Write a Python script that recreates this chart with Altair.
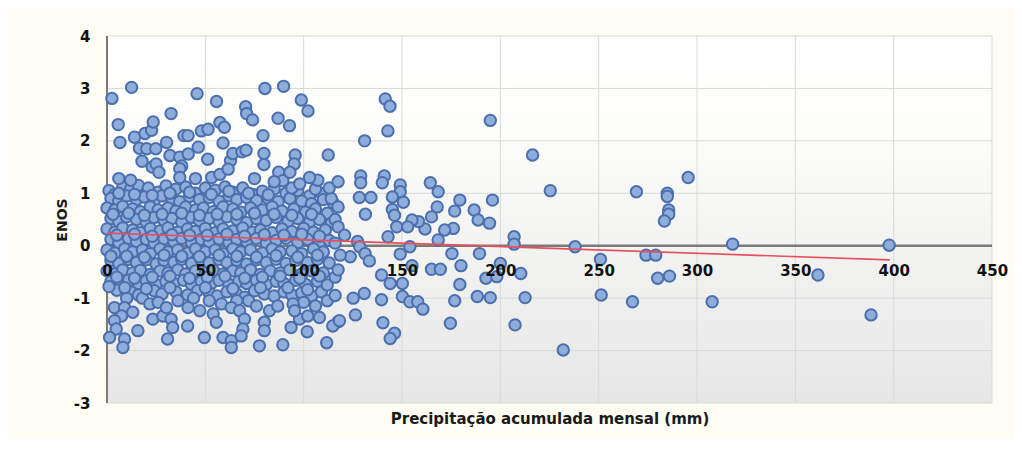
import altair as alt
import pandas as pd

# ---- data (x = precipitação mm, y = ENOS) ----
dense_pts = [
    (1,1.05),(4,0.98),(8,1.12),(12,1.08),(16,1.15),(21,1.1),(26,1.02),(30,1.14),(35,1.08),(40,1.12),(45,1.0),(50,1.1),(55,1.06),(60,1.12),(64,1.02),(69,1.1),(74,0.98),(79,1.04),(85,1.08),(91,1.0),(97,1.05),(103,0.95),(109,1.0),
    (2,0.9),(6,0.85),(10,0.95),(15,0.88),(19,0.93),(24,0.86),(28,0.95),(33,0.9),(37,0.84),(42,0.94),(47,0.88),(52,0.92),(57,0.85),(62,0.95),(66,0.88),(71,0.92),(76,0.86),(82,0.9),(87,0.84),(93,0.9),(99,0.85),(104,0.8),(110,0.88),(115,0.82),
    (0,0.72),(4,0.68),(8,0.75),(13,0.7),(17,0.65),(22,0.74),(26,0.68),(31,0.72),(35,0.66),(40,0.74),(45,0.68),(49,0.72),(54,0.65),(59,0.74),(64,0.7),(68,0.64),(73,0.72),(79,0.68),(84,0.74),(89,0.66),(95,0.7),(101,0.64),(106,0.7),(112,0.62),
    (2,0.52),(6,0.46),(10,0.55),(15,0.5),(20,0.45),(24,0.54),(29,0.48),(33,0.52),(38,0.45),(43,0.54),(47,0.48),(52,0.52),(57,0.46),(61,0.55),(66,0.5),(71,0.44),(76,0.52),(81,0.48),(86,0.54),(92,0.46),(97,0.52),(103,0.45),(108,0.5),(114,0.42),
    (0,0.32),(4,0.26),(8,0.34),(13,0.3),(17,0.25),(22,0.33),(27,0.28),(31,0.34),(36,0.26),(41,0.32),(45,0.27),(50,0.33),(55,0.25),(59,0.32),(64,0.28),(69,0.34),(74,0.26),(78,0.3),(84,0.25),(89,0.32),(94,0.27),(100,0.33),(105,0.26),(111,0.3),
    (2,0.12),(6,0.06),(11,0.14),(15,0.08),(20,0.12),(24,0.05),(29,0.13),(34,0.08),(38,0.14),(43,0.06),(48,0.12),(52,0.07),(57,0.13),(62,0.06),(66,0.12),(71,0.08),(76,0.14),(81,0.05),(86,0.1),(91,0.14),(97,0.06),(102,0.12),(108,0.05),(113,0.1),
    (0,-0.08),(4,-0.14),(9,-0.06),(13,-0.12),(18,-0.08),(22,-0.15),(27,-0.06),(31,-0.12),(36,-0.08),(41,-0.14),(45,-0.06),(50,-0.12),(55,-0.08),(59,-0.15),(64,-0.06),(68,-0.12),(73,-0.08),(79,-0.14),(84,-0.06),(88,-0.12),(94,-0.1),(99,-0.15),(105,-0.06),(110,-0.12),
    (2,-0.28),(6,-0.34),(11,-0.26),(15,-0.32),(20,-0.27),(25,-0.35),(29,-0.28),(34,-0.32),(38,-0.26),(43,-0.34),(48,-0.28),(52,-0.33),(57,-0.26),(61,-0.32),(66,-0.28),(71,-0.35),(76,-0.27),(81,-0.32),(86,-0.26),(91,-0.34),(96,-0.28),(102,-0.32),(107,-0.26),(113,-0.33),
    (0,-0.48),(4,-0.54),(8,-0.46),(13,-0.52),(17,-0.47),(22,-0.55),(27,-0.48),(31,-0.52),(36,-0.46),(40,-0.54),(45,-0.48),(50,-0.52),(54,-0.47),(59,-0.54),(64,-0.48),(68,-0.52),(73,-0.46),(78,-0.55),(83,-0.48),(88,-0.52),(93,-0.46),(99,-0.54),(104,-0.48),(110,-0.52),
    (2,-0.68),(7,-0.74),(11,-0.66),(16,-0.72),(20,-0.67),(25,-0.74),(30,-0.68),(34,-0.72),(39,-0.66),(43,-0.74),(48,-0.68),(53,-0.72),(57,-0.66),(62,-0.74),(67,-0.68),(71,-0.72),(76,-0.66),(81,-0.74),(86,-0.68),(90,-0.72),(96,-0.66),(101,-0.74),(107,-0.68),
    (5,-0.85),(12,-0.88),(16,-0.94),(24,-0.86),(28,-0.92),(35,-0.88),(41,-0.94),(46,-0.86),(52,-0.9),(56,-0.96),(61,-0.88),(66,-0.92),(70,-0.98),(75,-0.86),(80,-0.92),(85,-0.96),(90,-0.88),(94,-0.94),(99,-0.9),(104,-0.96),(109,-0.88),
    (72,-1.05),(76,-1.15),(66,-1.05),(100,-1.08),(106,-1.15),(112,-1.05),(116,-0.95),(112,-0.75),(116,-0.6),(116,0.05),(116,0.5),(114,0.9),(113,1.1),
    (10,-1.0),(18,-1.0),(44,-1.0),(52,-1.05),
]

# further points packed inside the dense cloud
fill_pts = [
    (6,1.0),(14,0.98),(23,0.96),(32,1.0),(42,1.02),(53,0.98),(62,1.04),(72,1.0),(82,0.97),(94,1.1),(106,1.08),
    (3,0.6),(11,0.62),(19,0.58),(28,0.6),(38,0.62),(47,0.58),(56,0.6),(66,0.6),(75,0.62),(85,0.6),(94,0.58),(104,0.6),
    (5,0.2),(14,0.22),(23,0.18),(33,0.21),(42,0.2),(51,0.2),(61,0.22),(70,0.18),(80,0.21),(90,0.2),(99,0.22),(108,0.18),
    (2,-0.2),(10,-0.2),(19,-0.22),(29,-0.18),(38,-0.2),(47,-0.21),(57,-0.18),(66,-0.2),(76,-0.22),(86,-0.19),(97,-0.22),(107,-0.18),
    (5,-0.6),(14,-0.62),(23,-0.6),(32,-0.58),(42,-0.62),(51,-0.6),(60,-0.58),(70,-0.62),(79,-0.6),(88,-0.58),(98,-0.62),(108,-0.58),
    (1,-0.78),(9,-0.8),(20,-0.82),(32,-0.8),(50,-0.8),(64,-0.82),(78,-0.8),(92,-0.8),(102,-0.84),
]

upper_pts = [
    (2.5,2.81),(12.5,3.02),(5.7,2.31),(6.6,1.97),(14,2.07),(19.3,2.14),(22.7,2.2),(23.5,2.36),(32.6,2.52),(45.8,2.9),
    (55.7,2.75),(57.4,2.35),(59.7,2.26),(70.5,2.65),(71,2.52),(74,2.4),(80.3,3.0),(89.8,3.04),(98.8,2.78),(102.2,2.57),
    (87,2.43),(92.8,2.29),(79.3,2.1),(39.1,2.1),(41.2,2.1),(48,2.19),(51.4,2.22),(46.4,1.88),(59,1.96),(30.3,1.97),
    (16.5,1.86),(20.2,1.85),(24.8,1.85),(32,1.72),(37,1.69),(17.8,1.61),(38,1.52),(41.3,1.75),(51.2,1.65),(62.8,1.62),
    (64,1.76),(68.6,1.79),(70.7,1.82),(79.8,1.76),(79.8,1.55),(95.7,1.73),(95.2,1.56),(87.3,1.4),(89.4,1.24),(93,1.4),
    (98,1.18),(107.2,1.25),(112.5,1.73),(117.5,1.22),(23,1.5),(25,1.56),(26.4,1.4),(37,1.47),(37,1.3),(53.2,1.3),
    (57.4,1.36),(61.6,1.46),(141.5,2.8),(143.9,2.66),(142.8,2.19),(131,2.0),(129,1.33),(129,1.2),(141,1.33),(140,1.2),
    (12,1.25),(6,1.28),(45,1.28),(75,1.28),(85,1.22),(103,1.3),
]

mid_pts = [
    (128.3,0.92),(134.2,0.92),(131.4,0.6),(117.5,0.74),(117.5,0.36),(120.8,0.2),(127.4,0.08),(128.5,-0.02),(131.2,-0.15),(133.4,-0.29),
    (123.7,-0.21),(118.6,-0.18),(117.5,-0.46),(139.6,-0.56),(144,-0.72),(150.2,-0.72),(139.6,-1.03),(125.2,-1.0),(130.8,-0.91),(150.2,-0.97),
    (154,-1.07),(158,-1.07),(160.6,-1.21),(126.3,-1.32),(117.5,-1.45),(140.3,-1.47),(146.2,-1.67),(144,-1.77),(149.1,1.16),(149.1,1.03),
    (145.1,0.93),(150.7,0.83),(145.1,0.69),(146.2,0.58),(147.3,0.36),(142.9,0.17),(154,-0.02),(149.1,-0.16),(155.1,-0.38),(164.4,1.2),
    (168.4,1.03),(167.9,0.74),(165,0.55),(168.4,0.11),(165,-0.45),(169.5,-0.45),(161.7,0.32),(158.4,0.46),(155.1,0.49),(152.9,0.36),
    (179.4,0.87),(176.8,0.66),(176.1,0.33),(171.7,0.3),(175.4,-0.15),(180,-0.38),(179.4,-0.74),(176.8,-1.05),(174.6,-1.48),(186.7,0.68),
    (188.7,0.49),(196,0.87),(194.5,0.43),(189.4,-0.15),(188.3,-0.97),(194.9,-0.99),(192.7,-0.62),(198.2,-0.59),(210.4,-0.53),(200,-0.34),
    (207,0.17),(207,0.03),(212.6,-0.99),(207.5,-1.51),(194.9,2.39),(216.4,1.73),(225.4,1.05),(232,-1.99),(238,-0.02),
]

lower_pts = [
    (111.7,-1.85),(101.8,-1.64),(89.4,-1.89),(77.5,-1.91),(93.6,-1.56),(114.8,-1.53),(118.2,-1.43),(108,-1.37),(97.9,-1.4),(102.1,-1.34),
    (80,-1.46),(80,-1.62),(82.6,-1.24),(86.8,-1.15),(94.6,-1.11),(95.4,-1.24),
    (3.8,-1.18),(8.9,-1.18),(13.1,-1.27),(7.4,-1.34),(3.8,-1.43),(4.7,-1.59),(1.3,-1.75),(8.9,-1.78),(8.1,-1.94),(15.7,-1.62),
    (30.8,-1.78),(41,-1.53),(49.5,-1.75),(23.3,-1.4),(28.4,-1.34),(32.6,-1.4),(33.4,-1.56),(21.8,-1.11),(26,-1.08),(30.2,-1.18),
    (36.1,-1.05),(41.2,-1.18),(47.2,-1.24),(54,-1.3),(55.6,-1.46),(59,-1.75),(63.2,-1.81),(63.2,-1.94),(58.2,-1.11),(63.2,-1.18),
    (67.4,-1.24),(69.9,-1.4),(69.1,-1.59),(68.2,-1.72),
]

far_pts = [
    (269.2,1.03),(284.9,1.0),(284.9,0.94),(285.6,0.68),(285.6,0.6),(283.4,0.47),(295.5,1.3),(318.1,0.03),(397.7,0.01),(250.9,-0.26),
    (274.1,-0.18),(279,-0.18),(280,-0.62),(286,-0.58),(361.5,-0.56),(251.3,-0.94),(267.2,-1.07),(307.7,-1.07),(388.5,-1.32),
]

trend_x = [0, 398]
trend_y = [0.24, -0.27]

x_ticks = [0, 50, 100, 150, 200, 250, 300, 350, 400, 450]
y_ticks = [-3, -2, -1, 0, 1, 2, 3, 4]
zero_line = [0]

all_pts = dense_pts + fill_pts + upper_pts + mid_pts + lower_pts + far_pts
pts = pd.DataFrame(all_pts, columns=["prec", "enos"])
trend = pd.DataFrame({"prec": trend_x, "enos": trend_y})
xt = pd.DataFrame({"prec": x_ticks})
yt = pd.DataFrame({"enos": y_ticks})
z = pd.DataFrame({"v": zero_line})

FONT = "DejaVu Sans"
W, H = 885, 367
zero_off = -round(H * 3 / 7)

xscale = alt.Scale(domain=[0, 450], nice=False, zero=False)
yscale = alt.Scale(domain=[-3, 4], nice=False, zero=False)

xaxis = alt.Axis(
    values=x_ticks, offset=zero_off, ticks=False, labelPadding=17,
    labelExpr="'' + datum.value",
    labelFont=FONT, labelFontSize=15, labelFontWeight="bold", labelColor="#111111",
    domain=False, grid=False, zindex=1,
    title="Precipitação acumulada mensal (mm)", titleFont=FONT, titleFontSize=15,
    titleFontWeight="bold", titleColor="#1a1a1a", titleY=172, titleBaseline="middle",
    labelFlush=False,
)
yaxis = alt.Axis(
    values=y_ticks, ticks=False, labelPadding=17,
    labelExpr="'' + datum.value",
    labelFont=FONT, labelFontSize=15, labelFontWeight="bold", labelColor="#111111",
    domain=False, grid=False, zindex=1,
    title="ENOS", titleFont=FONT, titleFontSize=14, titleFontWeight="bold",
    titleColor="#1a1a1a", titleX=-45, titleBaseline="middle", titleAngle=270,
    labelFlush=False,
)

bg = alt.Chart(pd.DataFrame({"a": [0]})).mark_rect(
    fill=alt.LinearGradient(
        gradient="linear", x1=0, x2=0, y1=0, y2=1,
        stops=[alt.GradientStop(color="#ffffff", offset=0),
               alt.GradientStop(color="#fdfdfb", offset=0.25),
               alt.GradientStop(color="#e6e6e6", offset=1)],
    )
).encode(x=alt.value(0), x2=alt.value(W), y=alt.value(0), y2=alt.value(H))

vgrid = alt.Chart(xt).mark_rule(color="#d9d9d9", strokeWidth=1).encode(
    x=alt.X("prec:Q", scale=xscale), y=alt.value(0), y2=alt.value(H))
hgrid = alt.Chart(yt).mark_rule(color="#d9d9d9", strokeWidth=1).encode(
    y=alt.Y("enos:Q", scale=yscale), x=alt.value(0), x2=alt.value(W))
yline = alt.Chart(z).mark_rule(color="#7a7a7a", strokeWidth=2).encode(
    x=alt.X("v:Q", scale=xscale), y=alt.value(0), y2=alt.value(H))
zline = alt.Chart(z).mark_rule(color="#7a7a7a", strokeWidth=2.5).encode(
    y=alt.Y("v:Q", scale=yscale), x=alt.value(0), x2=alt.value(W))

points = alt.Chart(pts).mark_point(
    shape="circle", filled=True, fill="#8fadda", stroke="#4b6fae",
    strokeWidth=2, size=130, opacity=1,
).encode(
    x=alt.X("prec:Q", scale=xscale, axis=xaxis),
    y=alt.Y("enos:Q", scale=yscale, axis=yaxis),
)

line = alt.Chart(trend).mark_line(color="#e5505c", strokeWidth=1.6).encode(
    x=alt.X("prec:Q", scale=xscale),
    y=alt.Y("enos:Q", scale=yscale),
)

chart = alt.layer(bg, vgrid, hgrid, yline, zline, points, line).properties(
    width=W, height=H,
    autosize=alt.AutoSizeParams(type="none"),
    padding={"left": 99, "top": 28, "right": 22, "bottom": 36},
    background="#fdfdf4",
).configure_view(stroke=None)

chart.save("out.html", embed_options={"renderer": "svg", "actions": False})
